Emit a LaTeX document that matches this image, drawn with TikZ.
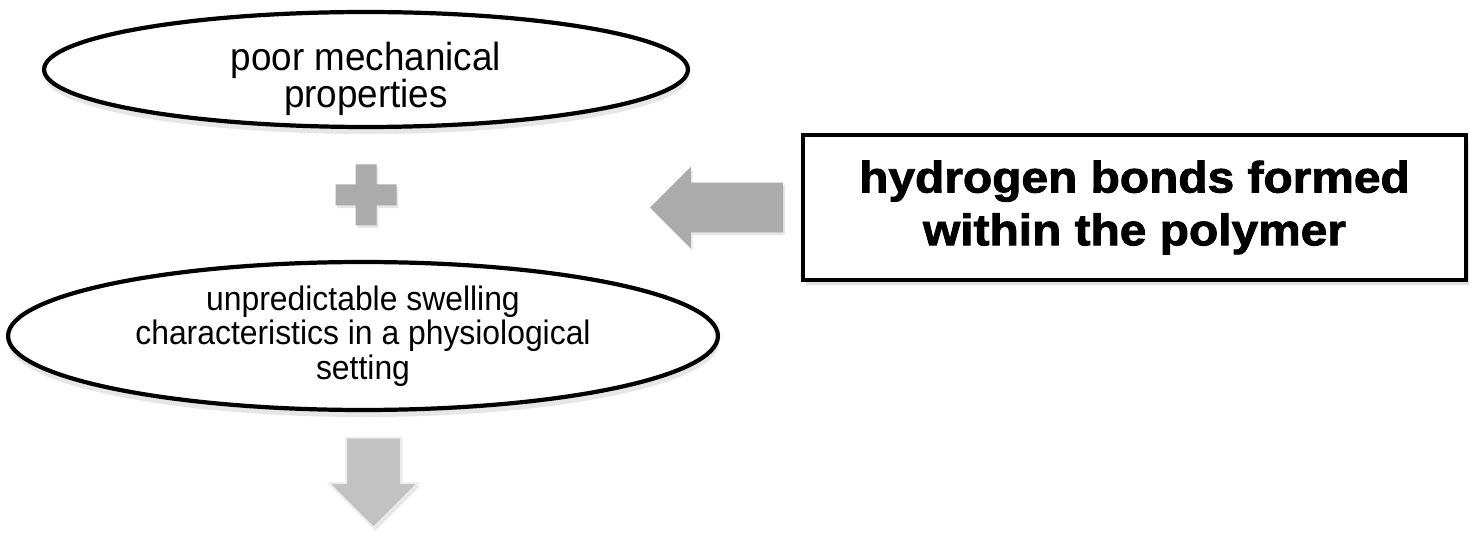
\documentclass[tikz,border=0pt]{standalone}
\usepackage{fontspec}
\setmainfont{Liberation Sans}[FakeStretch=0.94]
\newfontfamily\grasfont{Liberation Sans Bold}[FakeBold=2, FakeStretch=1.09]
\usetikzlibrary{shapes.geometric, shapes.arrows, shadows, positioning}

\begin{document}
\begin{tikzpicture}[
  x=0.02cm, y=-0.02cm,
  bulle/.style={
    ellipse, draw=black, fill=white,
    line width=2.4pt, align=center, inner sep=0pt,
    font=\fontsize{19.3}{19.6}\selectfont,
    drop shadow={shadow xshift=0.5pt, shadow yshift=-4pt, opacity=0.2}
  },
  encadre/.style={
    rectangle, draw=black, fill=white,
    line width=2.2pt, align=center,
    font=\grasfont\fontsize{25}{30}\selectfont,
    drop shadow={shadow xshift=1.5pt, shadow yshift=-3pt, opacity=0.25}
  },
  fleche/.style={
    single arrow, draw=none, fill=black!33,
    inner xsep=0pt, single arrow head extend=0.32cm,
    drop shadow={shadow xshift=1pt, shadow yshift=-1.5pt, opacity=0.2}
  }
]
\useasboundingbox (0,0) rectangle (1470,533);

% ----- Ellipses -----
\node[bulle, minimum width=12.88cm, minimum height=2.3cm,
      font=\fontsize{22.3}{21}\selectfont, text height=42.7pt, text depth=0pt] (meca) at (366,69.5)
  {poor mechanical\\properties};

\node[bulle, minimum width=14.2cm, minimum height=2.96cm] (gonflement) at (363,336)
  {unpredictable swelling\\characteristics in a physiological\\setting};

% ----- Encadre -----
\node[encadre, minimum width=13.26cm, minimum height=2.9cm] (liaisons) at (1134.5,207.5)
  {hydrogen bonds formed\\within the polymer};

% ----- Plus -----
\coordinate (plus) at (366,195);
\fill[black!33, shift={(plus)},
      drop shadow={shadow xshift=1pt, shadow yshift=-1.5pt, opacity=0.2}]
  (-10.5,-30.5) -- (10.5,-30.5) -- (10.5,-10.5) -- (30.5,-10.5) -- (30.5,10.5)
  -- (10.5,10.5) -- (10.5,30.5) -- (-10.5,30.5) -- (-10.5,10.5) -- (-30.5,10.5)
  -- (-30.5,-10.5) -- (-10.5,-10.5) -- cycle;

% ----- Fleches -----
\node[fleche, rotate=180, minimum height=2.66cm, inner ysep=0.49cm] (gauche) at (729,207.5) {};

\node[fleche, rotate=-90, minimum height=1.8cm, inner ysep=0.53cm,
      single arrow head extend=0.34cm, fill=black!24, draw=black!8, line width=1pt] (bas) at (373.5,469) {};

\end{tikzpicture}
\end{document}
